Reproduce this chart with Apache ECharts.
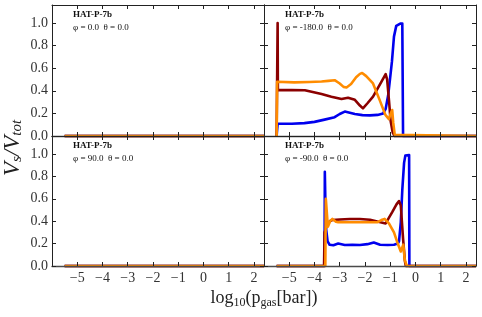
<!DOCTYPE html>
<html>
<head>
<meta charset="utf-8">
<script src="https://cdn.jsdelivr.net/npm/echarts@6/dist/echarts.min.js"></script>
<style>html,body{margin:0;padding:0;background:#fff}#c{width:482px;height:317px}</style>
</head>
<body>
<div id="c"></div>
<script>
// ---- data (x = log10 p_gas [bar], y = V_s/V_tot) ----
const xTicks = [-5, -4, -3, -2, -1, 0, 1, 2];
const yTicks = [0, 0.2, 0.4, 0.6, 0.8, 1.0];
const panelTitles = ['HAT-P-7b', 'HAT-P-7b', 'HAT-P-7b', 'HAT-P-7b'];
const panelAngles = ['φ = 0.0  θ = 0.0', 'φ = -180.0  θ = 0.0', 'φ = 90.0  θ = 0.0', 'φ = -90.0  θ = 0.0'];

// phi = 0.0 (top-left): empty
const phi0Blue = [[-5.5, 0], [2.4, 0]];
const phi0Orange = [[-5.5, 0], [2.4, 0]];
const phi0Red = [[-5.5, 0], [2.4, 0]];

// phi = -180.0 (top-right)
const phi180Blue = [[-5.5,0],[-5.47,0],[-5.46,0.108],[-4.9,0.108],[-4.4,0.114],[-4.0,0.125],[-3.6,0.145],[-3.2,0.167],[-3.0,0.195],[-2.8,0.216],[-2.6,0.205],[-2.4,0.195],[-2.1,0.185],[-1.8,0.183],[-1.5,0.187],[-1.28,0.2],[-1.18,0.24],[-1.08,0.36],[-1.0,0.52],[-0.93,0.66],[-0.85,0.88],[-0.76,0.975],[-0.6,0.995],[-0.52,0.995],[-0.49,0],[2.4,0]];
const phi180Orange = [[-5.5,0],[-5.49,0],[-5.48,0.48],[-4.8,0.475],[-4.2,0.478],[-3.72,0.482],[-3.45,0.488],[-3.2,0.494],[-3.0,0.465],[-2.85,0.435],[-2.73,0.43],[-2.55,0.46],[-2.35,0.52],[-2.2,0.55],[-2.11,0.558],[-1.95,0.53],[-1.68,0.465],[-1.42,0.32],[-1.19,0.187],[-1.05,0.15],[-0.98,0.2],[-0.92,0.23],[-0.88,0.12],[-0.82,0.01],[-0.76,0],[2.4,0]];
const phi180Red = [[-5.5,0],[-5.47,0],[-5.46,1.0],[-5.45,0.406],[-4.9,0.406],[-4.38,0.405],[-3.72,0.371],[-3.33,0.348],[-2.93,0.327],[-2.67,0.339],[-2.4,0.32],[-2.2,0.27],[-2.08,0.245],[-1.9,0.29],[-1.68,0.348],[-1.35,0.48],[-1.18,0.547],[-1.12,0.5],[-1.05,0.32],[-0.98,0.13],[-0.9,0.03],[-0.82,0],[2.4,0]];

// phi = 90.0 (bottom-left): empty
const phi90Blue = [[-5.5, 0], [2.4, 0]];
const phi90Orange = [[-5.5, 0], [2.4, 0]];
const phi90Red = [[-5.5, 0], [2.4, 0]];

// phi = -90.0 (bottom-right)
const phim90Blue = [[-5.5,0],[-3.6,0],[-3.59,0.84],[-3.55,0.35],[-3.48,0.22],[-3.4,0.19],[-3.25,0.185],[-3.06,0.2],[-2.8,0.188],[-2.5,0.19],[-2.2,0.188],[-1.9,0.195],[-1.65,0.21],[-1.4,0.19],[-1.1,0.188],[-0.85,0.19],[-0.7,0.2],[-0.65,0.22],[-0.58,0.39],[-0.52,0.68],[-0.45,0.92],[-0.4,0.985],[-0.25,0.99],[-0.24,0],[2.4,0]];
const phim90Orange = [[-5.5,0],[-3.57,0],[-3.55,0.6],[-3.47,0.35],[-3.38,0.4],[-3.29,0.42],[-3.15,0.395],[-3.06,0.39],[-2.5,0.39],[-2.0,0.39],[-1.52,0.39],[-1.35,0.41],[-1.22,0.42],[-1.05,0.38],[-0.85,0.3],[-0.7,0.2],[-0.58,0.13],[-0.48,0.19],[-0.42,0.05],[-0.34,0],[2.4,0]];
const phim90Red = [[-5.5,0],[-3.62,0],[-3.6,0.3],[-3.5,0.37],[-3.4,0.4],[-3.29,0.41],[-3.0,0.415],[-2.6,0.42],[-2.2,0.42],[-1.8,0.412],[-1.39,0.39],[-1.18,0.38],[-0.92,0.48],[-0.75,0.55],[-0.65,0.58],[-0.58,0.54],[-0.49,0.245],[-0.42,0.05],[-0.38,0],[2.4,0]];

const panelData = [
  [phi0Blue, phi0Red, phi0Orange],
  [phi180Blue, phi180Red, phi180Orange],
  [phi90Blue, phi90Red, phi90Orange],
  [phim90Blue, phim90Red, phim90Orange]
];
const seriesColors = ['#0000ee', '#8b0000', '#ff8c00'];

// ---- layout ----
const FONT = '"Liberation Serif", "DejaVu Serif", serif';
const grids = [
  {left: 52, top: 5, width: 212, height: 131},
  {left: 264, top: 5, width: 212, height: 131},
  {left: 52, top: 136, width: 212, height: 130},
  {left: 264, top: 136, width: 212, height: 130}
];
const XMIN = -6, XMAX = 2.4, YMIN = 0, YMAX = 1.16;
const spineColor = '#222';
function fmtX(v){ return v < 0 ? '\u2212' + (-v) : String(v); }

const xAxis = [], yAxis = [], series = [];
grids.forEach((g, i) => {
  const isBottom = i >= 2, isLeft = i % 2 === 0;
  const common = {
    type: 'value', gridIndex: i, min: XMIN, max: XMAX, interval: 1,
    splitLine: {show: false}, z: 5,
    axisTick: {show: true, inside: true, length: 4, customValues: xTicks, lineStyle: {color: spineColor}}
  };
  xAxis.push(Object.assign({}, common, {
    position: 'bottom',
    axisLine: {show: true, onZero: false, lineStyle: {color: '#4a4a4a', width: 1.4}},
    axisLabel: {show: isBottom, customValues: xTicks, formatter: fmtX, margin: 5,
      fontFamily: FONT, fontSize: 14, color: '#333'}
  }));
  xAxis.push(Object.assign({}, common, {position: 'top',
    axisLine: {show: true, onZero: false, lineStyle: {color: spineColor, width: 1}},
    axisLabel: {show: false}}));
  const ycommon = {
    type: 'value', gridIndex: i, min: YMIN, max: YMAX, interval: 0.2,
    splitLine: {show: false}, z: 5,
    axisLine: {show: true, onZero: false, lineStyle: {color: spineColor, width: 1}},
    axisTick: {show: true, inside: true, length: 4, customValues: yTicks, lineStyle: {color: spineColor}}
  };
  yAxis.push(Object.assign({}, ycommon, {
    position: 'left',
    axisLabel: {show: isLeft, customValues: yTicks, formatter: v => v.toFixed(1), margin: 4,
      fontFamily: FONT, fontSize: 14, color: '#333'}
  }));
  yAxis.push(Object.assign({}, ycommon, {position: 'right', axisLabel: {show: false}}));

  panelData[i].forEach((d, k) => {
    series.push({
      type: 'line', xAxisIndex: 2 * i, yAxisIndex: 2 * i, data: d,
      showSymbol: false, symbol: 'none', clip: false, z: 2 + k,
      lineStyle: {color: seriesColors[k], width: 2.6, join: 'round'},
      emphasis: {disabled: true}, silent: true
    });
  });
});

// ---- text ----
const graphic = [];
grids.forEach((g, i) => {
  graphic.push({type: 'text', left: g.left + 21, top: g.top + 5,
    style: {text: panelTitles[i], font: 'bold 9px ' + FONT, fill: '#111'}});
  graphic.push({type: 'text', left: g.left + 21, top: g.top + 18,
    style: {text: panelAngles[i], font: '9px ' + FONT, fill: '#111'}});
});
graphic.push({
  type: 'text', x: 13, y: 148, rotation: Math.PI / 2,
  style: {
    text: '{i|V}{s|s}{i|/V}{s|tot}',
    align: 'center', verticalAlign: 'middle',
    rich: {
      i: {fontFamily: FONT, fontStyle: 'italic', fontSize: 23, fill: '#222', lineHeight: 24, verticalAlign: 'middle'},
      s: {fontFamily: FONT, fontStyle: 'italic', fontSize: 15, fill: '#222', lineHeight: 13, verticalAlign: 'bottom'}
    }
  }
});
graphic.push({
  type: 'text', x: 264, y: 298,
  style: {
    text: '{m|log}{s|10}{m|(p}{s|gas}{m|[bar])}',
    align: 'center', verticalAlign: 'middle',
    rich: {
      m: {fontFamily: FONT, fontSize: 18, fill: '#222', lineHeight: 22, verticalAlign: 'middle'},
      s: {fontFamily: FONT, fontSize: 12, fill: '#222', lineHeight: 12, verticalAlign: 'bottom'}
    }
  }
});

const chart = echarts.init(document.getElementById('c'), null, {renderer: 'canvas'});
chart.setOption({
  animation: false, backgroundColor: '#fff',
  grid: grids.map(g => Object.assign({containLabel: false}, g)),
  xAxis, yAxis, series, graphic
});
</script>
</body>
</html>
